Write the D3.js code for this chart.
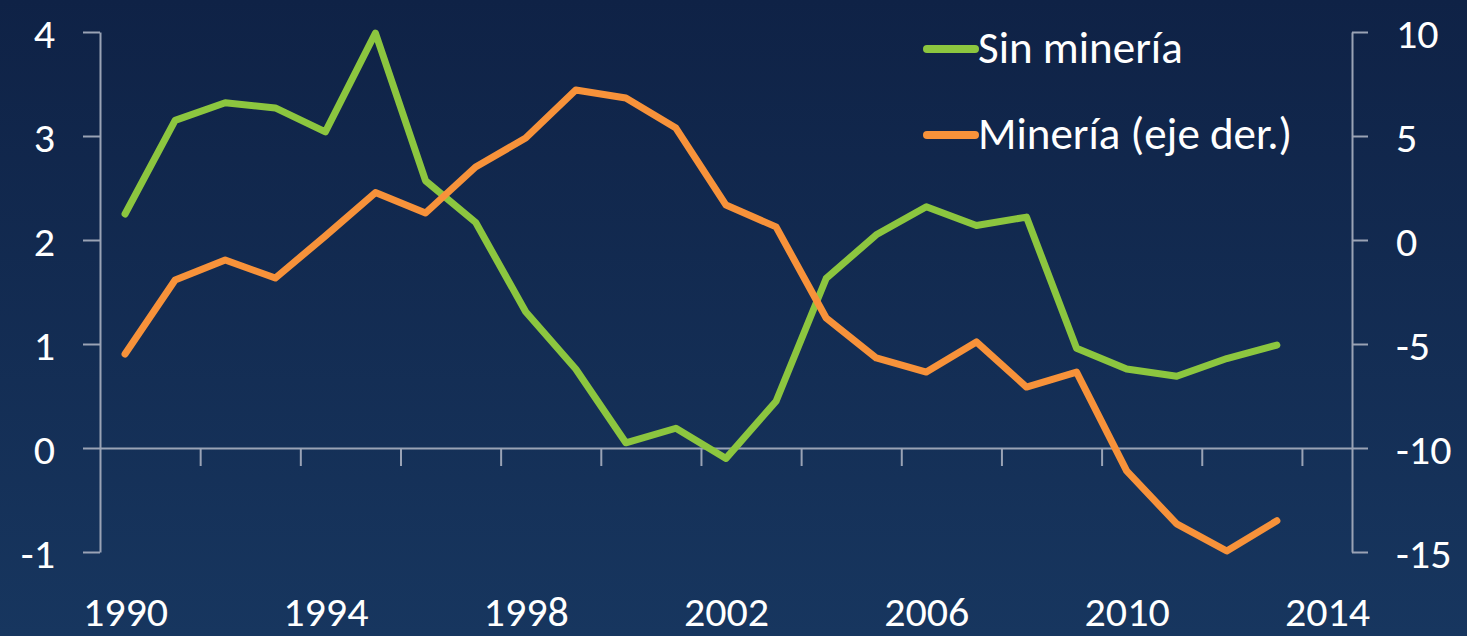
<!DOCTYPE html>
<html>
<head>
<meta charset="utf-8">
<script src="https://cdn.jsdelivr.net/npm/d3@7"></script>
<style>
  html, body { margin: 0; padding: 0; background: #132b52; }
  text { font-family: Carlito, Lato, "Open Sans", sans-serif; fill: #ffffff; }
  .axis path, .axis line { stroke: #9aa3b5; stroke-width: 2; }
</style>
</head>
<body>
<div id="my_dataviz"></div>
<script>
// data
var years = [1990, 1991, 1992, 1993, 1994, 1995, 1996, 1997, 1998, 1999, 2000, 2001,
             2002, 2003, 2004, 2005, 2006, 2007, 2008, 2009, 2010, 2011, 2012, 2013];
var sinMineria = [2.25, 3.15, 3.32, 3.27, 3.04, 3.99, 2.57, 2.17, 1.31, 0.76, 0.05, 0.19,
                  -0.1, 0.45, 1.63, 2.05, 2.32, 2.14, 2.22, 0.96, 0.76, 0.69, 0.86, 0.99];
var mineria = [-5.48, -1.92, -0.96, -1.83, 0.19, 2.28, 1.3, 3.51, 4.9, 7.21, 6.83, 5.38,
               1.68, 0.63, -3.75, -5.67, -6.35, -4.9, -7.07, -6.35, -11.1, -13.65, -14.95, -13.5];
var leftTicks = [-1, 0, 1, 2, 3, 4];
var rightTicks = [-15, -10, -5, 0, 5, 10];
var yearLabels = [1990, 1994, 1998, 2002, 2006, 2010, 2014];
var legendNames = ["Sin minería", "Minería (eje der.)"];

var width = 1467, height = 636;
var green = "#8cc63f", orange = "#f7923a";

// plain hyphen for negatives, like the original
var fmt = d => String(d);

var svg = d3.select("#my_dataviz")
  .append("svg")
    .attr("width", width)
    .attr("height", height);

// background gradient
var grad = svg.append("defs").append("linearGradient")
  .attr("id", "bg")
  .attr("x1", 0).attr("y1", 0).attr("x2", 0).attr("y2", 1);
grad.append("stop").attr("offset", "0%").attr("stop-color", "#0f2246");
grad.append("stop").attr("offset", "100%").attr("stop-color", "#17365f");
svg.append("rect")
  .attr("width", width).attr("height", height)
  .attr("fill", "url(#bg)");

// scales
var x = d3.scaleLinear().domain([1989.5, 2014.5]).range([100, 1352]);
var yLeft = d3.scaleLinear().domain([-1, 4]).range([552, 32]);
var yRight = d3.scaleLinear().domain([-15, 10]).range([552, 32]);

// left axis
var gl = svg.append("g")
  .attr("class", "axis")
  .attr("transform", "translate(100,0)")
  .call(d3.axisLeft(yLeft).tickValues(leftTicks).tickFormat(fmt)
    .tickSize(17).tickSizeOuter(0).tickPadding(28));
gl.selectAll("text").style("font-size", "42px").attr("dy", "0.36em");

// right axis
var gr = svg.append("g")
  .attr("class", "axis")
  .attr("transform", "translate(1352,0)")
  .call(d3.axisRight(yRight).tickValues(rightTicks).tickFormat(fmt)
    .tickSize(16).tickSizeOuter(0).tickPadding(28));
gr.selectAll("text").style("font-size", "42px").attr("dy", "0.36em");

// x axis along zero of the left axis, ticks every two years between categories
var tickYears = d3.range(1991.5, 2014, 2);
var gx = svg.append("g")
  .attr("class", "axis")
  .attr("transform", "translate(0," + yLeft(0) + ")")
  .call(d3.axisBottom(x).tickValues(tickYears).tickSize(18).tickSizeOuter(0).tickFormat(""));

// year labels
var gxl = svg.append("g")
  .attr("transform", "translate(0," + yLeft(0) + ")")
  .call(d3.axisBottom(x).tickValues(yearLabels).tickSize(0).tickFormat(fmt));
gxl.select(".domain").remove();
gxl.selectAll("text")
  .style("font-size", "42px")
  .attr("y", 178)
  .attr("dy", 0);

// lines
var lineLeft = d3.line()
  .x((d, i) => x(years[i]))
  .y(d => yLeft(d));
var lineRight = d3.line()
  .x((d, i) => x(years[i]))
  .y(d => yRight(d));

svg.append("path")
  .datum(sinMineria)
  .attr("d", lineLeft)
  .attr("fill", "none")
  .attr("stroke", green)
  .attr("stroke-width", 7)
  .attr("stroke-linejoin", "round")
  .attr("stroke-linecap", "round");

svg.append("path")
  .datum(mineria)
  .attr("d", lineRight)
  .attr("fill", "none")
  .attr("stroke", orange)
  .attr("stroke-width", 7)
  .attr("stroke-linejoin", "round")
  .attr("stroke-linecap", "round");

// legend
var legend = svg.selectAll(".legend")
  .data(legendNames)
  .enter().append("g")
  .attr("class", "legend")
  .attr("transform", (d, i) => "translate(925," + (49 + i * 86) + ")");

legend.append("line")
  .attr("x1", 2).attr("x2", 50)
  .attr("y1", 0).attr("y2", 0)
  .attr("stroke", (d, i) => i === 0 ? green : orange)
  .attr("stroke-width", 8)
  .attr("stroke-linecap", "round");

legend.append("text")
  .attr("x", 53)
  .attr("y", 14)
  .style("font-size", "45px")
  .text(d => d);
</script>
</body>
</html>
